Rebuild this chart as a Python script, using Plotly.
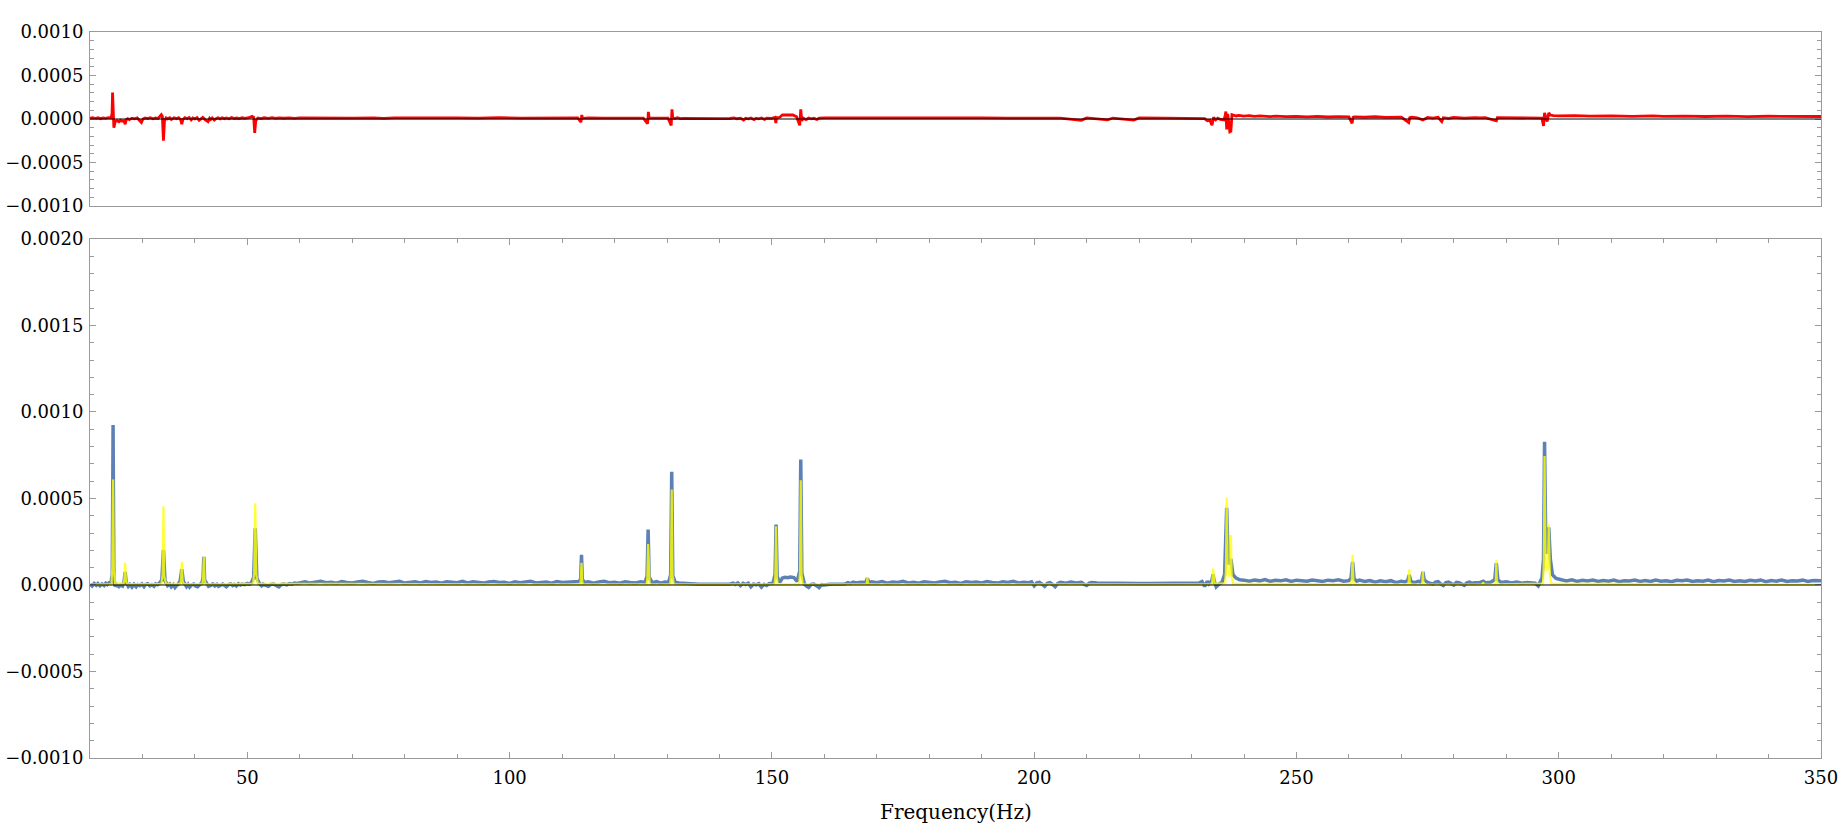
import plotly.graph_objects as go

# ---- Measured spectrum (blue): (frequency Hz, amplitude in 1e-6 units) ----
meas_points = [
    (20.0, 5), (20.4, -6), (20.8, 9), (21.2, -2), (21.5, 8), (21.9, -5), (22.3, 6),
    (22.7, -3), (23.0, 10), (23.3, 2), (23.6, 12), (24.0, 15),
    (24.25, 60), (24.4, 924), (24.55, 40), (24.8, -8), (25.1, 2), (25.5, -9), (25.8, 0),
    (26.2, -6), (26.5, 20), (26.7, 76), (26.9, 15), (27.3, -8), (27.6, 3), (28.0, -12),
    (28.4, 4), (28.8, -10), (29.1, 2), (29.5, -4), (29.9, 6), (30.3, -9), (30.6, 3),
    (31.0, 7), (31.4, -5), (31.8, 2), (32.2, -7), (32.5, 6), (32.9, 1), (33.2, 9),
    (33.7, 30), (34.0, 203), (34.3, 25), (34.6, 9), (34.8, -4), (35.2, 5), (35.5, -11),
    (35.9, 2), (36.2, -14), (36.5, -3), (36.8, 4), (37.2, 25), (37.5, 91), (37.8, 20),
    (38.1, 2), (38.4, -9), (38.7, 3), (39.0, -12), (39.4, 1), (39.8, 5), (40.1, -6),
    (40.5, -10), (40.9, 2), (41.3, 10), (41.55, 40), (41.7, 163), (41.85, 30),
    (42.3, 2), (42.6, -8), (43.0, -3), (43.4, 6), (43.8, -5), (44.2, 4), (44.5, -7),
    (44.9, 1), (45.3, 5), (45.7, -4), (46.0, -10), (46.4, 2), (46.8, 6), (47.2, -3),
    (47.5, 3), (47.9, -6), (48.3, 7), (48.7, 0), (49.0, 5), (49.5, 2), (50.0, 9),
    (50.4, 4), (50.8, 15), (51.2, 45), (51.5, 327), (51.8, 40), (52.3, 8), (52.7, -4),
    (53.0, 5), (53.5, -2), (54.0, -7), (54.5, 4), (55.0, 6), (55.5, -3), (56.0, -11),
    (56.5, 3), (57.0, 5), (57.5, 1), (58.0, 8), (58.5, 5), (59.0, 11), (59.5, 9),
    (60, 14), (61, 19), (62, 11), (63, 17), (64, 22), (65, 13), (66, 16), (67, 10),
    (68, 20), (69, 15), (70, 12), (71, 18), (72, 21), (73, 14), (74, 9), (75, 17),
    (76, 19), (77, 13), (78, 16), (79, 22), (80, 11), (81, 15), (82, 18), (83, 12),
    (84, 20), (85, 14), (86, 17), (87, 10), (88, 19), (89, 16), (90, 13), (91, 21),
    (92, 12), (93, 18), (94, 15), (95, 11), (96, 17), (97, 20), (98, 14), (99, 16),
    (100, 9), (101, 19), (102, 13), (103, 18), (104, 22), (105, 12), (106, 15),
    (107, 17), (108, 11), (109, 20), (110, 14), (111, 16), (112, 13),
    (113.3, 20), (113.55, 40), (113.7, 175), (113.85, 35), (114.2, 14), (115, 19),
    (116, 11), (117, 17), (118, 21), (119, 13), (120, 16), (121, 10), (122, 19),
    (123, 15), (124, 12), (125, 18), (125.8, 15),
    (126.2, 50), (126.4, 320), (126.6, 45), (127.2, 12), (128, 19), (128.8, 10),
    (129.6, 17), (130.3, 14), (130.7, 60), (130.9, 655), (131.1, 55), (131.6, 14),
    (132.3, 11), (133.0, 9), (134.5, 6), (136, 5), (138, 5), (140, 6), (142, 5),
    (142.6, 11), (143, 3), (143.5, 12), (144, -4), (144.5, 9), (145, 2), (145.5, 10),
    (146, -10), (146.5, 6), (147, 1), (147.5, 8), (148, -12), (148.5, 4), (149, -3),
    (149.5, 9), (150.2, 10), (150.6, 60), (150.8, 350), (151.0, 50), (151.5, 15),
    (152.0, 40), (152.5, 44), (153.0, 42), (153.5, 46), (154.2, 43), (154.8, 20),
    (155.3, 80), (155.5, 725), (155.7, 70), (156.2, 5), (156.6, -6), (157, -14),
    (157.5, 4), (158, 6), (158.5, -4), (159, -15), (159.5, 2), (160, 0),
    (161, 4), (162, 4), (163, 5), (164, 6), (164.5, 13), (165, 8), (165.5, 17),
    (166, 12), (167, 16), (167.9, 15), (168.2, 39), (168.5, 12), (169, 18), (170, 13),
    (171, 20), (172, 11), (173, 17), (174, 14), (175, 21), (176, 12), (177, 16),
    (178, 10), (179, 19), (180, 15), (181, 12), (182, 18), (183, 21), (184, 13),
    (185, 16), (186, 9), (187, 19), (188, 14), (189, 17), (190, 12), (191, 20),
    (192, 15), (193, 11), (194, 18), (195, 14), (196, 21), (197, 12), (198, 16),
    (199, 13), (199.5, 18), (200, -5), (200.5, 12), (201, 15), (201.5, 5), (202, -8),
    (202.5, 10), (203, 14), (203.5, 3), (204, -10), (204.5, 9), (205, 15), (206, 10),
    (207, 17), (208, 12), (209, 15), (209.5, 5), (210, -2), (210.5, 11), (211, 14),
    (212, 12), (213, 11), (214, 10), (216, 8), (218, 8), (220, 8), (222, 8), (224, 8),
    (226, 8), (228, 9), (230, 10), (231.5, 12), (232, 20), (232.5, -8), (233, 22),
    (233.3, 6), (233.6, 15), (233.9, 30), (234.1, 62), (234.3, 25), (234.7, -10),
    (235.2, 5), (235.8, 15), (236.3, 60), (236.7, 446), (237.0, 120), (237.5, 151),
    (237.9, 60), (238.5, 40), (239.2, 30), (240, 28), (241, 22), (242, 29), (243, 24),
    (244, 31), (245, 21), (246, 27), (247, 24), (248, 30), (249, 20), (250, 28),
    (251, 25), (252, 22), (253, 29), (254, 24), (255, 21), (256, 28), (257, 25),
    (258, 30), (259, 22), (260, 25), (260.4, 40), (260.7, 134), (261.0, 35),
    (261.5, 22), (262, 28), (263, 21), (264, 26), (265, 16), (266, 24), (267, 19),
    (268, 25), (269, 13), (270, 22), (270.7, 18), (271.2, 25), (271.5, 58),
    (271.8, 20), (272.5, 14), (273.2, 21), (273.6, 17), (273.9, 35), (274.1, 76),
    (274.35, 30), (275, 15), (276, 5), (276.5, 16), (277, 19), (277.5, 6), (278, -3),
    (278.5, 14), (279, 17), (279.5, 8), (280, 0), (280.5, 15), (281, 13), (282, -2),
    (282.5, 12), (283, 16), (283.5, 9), (284, 13), (285, 15), (285.6, 22), (286, 13),
    (287, 16), (287.8, 30), (288.1, 126), (288.4, 30), (289, 15), (290, 19), (291, 12),
    (292, 17), (293, 10), (294, 15), (295, 12), (295.5, 10), (296.1, -5), (296.8, 40),
    (297.1, 150), (297.3, 828), (297.5, 300), (297.8, 180), (298.1, 333),
    (298.4, 150), (298.8, 60), (299.5, 38), (300.5, 30), (301.5, 24), (302.5, 30),
    (303.5, 21), (304.5, 27), (305.5, 23), (306.5, 29), (307.5, 20), (308.5, 26),
    (309.5, 22), (310.5, 28), (311.5, 19), (312.5, 25), (313.5, 23), (314.5, 29),
    (315.5, 21), (316.5, 26), (317.5, 20), (318.5, 28), (319.5, 22), (320.5, 25),
    (321.5, 19), (322.5, 27), (323.5, 24), (324.5, 29), (325.5, 20), (326.5, 25),
    (327.5, 22), (328.5, 28), (329.5, 19), (330.5, 26), (331.5, 23), (332.5, 29),
    (333.5, 21), (334.5, 25), (335.5, 20), (336.5, 27), (337.5, 23), (338.5, 28),
    (339.5, 19), (340.5, 26), (341.5, 22), (342.5, 29), (343.5, 20), (344.5, 25),
    (345.5, 23), (346.5, 28), (347.5, 21), (348.5, 26), (349.5, 22), (350, 25),
]

# ---- Fitted spectrum (yellow) ----
fit_points = [
    (20, 2), (24.1, 5), (24.25, 100), (24.4, 610), (24.55, 80), (24.8, 8), (26.4, 8),
    (26.55, 30), (26.7, 128), (26.85, 25), (27.1, 5), (33.6, 5), (33.85, 60),
    (34.0, 455), (34.15, 50), (34.5, 8), (37.2, 6), (37.35, 30), (37.5, 134),
    (37.65, 25), (37.9, 5), (41.4, 5), (41.55, 35), (41.7, 163), (41.85, 30),
    (42.1, 4), (51.1, 8), (51.3, 70), (51.5, 473), (51.7, 60), (52.0, 8),
    (113.4, 3), (113.55, 25), (113.7, 128), (113.85, 20), (114.0, 3),
    (126.1, 3), (126.25, 40), (126.4, 237), (126.55, 35), (126.7, 3),
    (130.6, 4), (130.75, 70), (130.9, 552), (131.05, 60), (131.3, 4),
    (150.5, 3), (150.65, 50), (150.8, 340), (150.95, 45), (151.1, 4),
    (155.2, 5), (155.35, 70), (155.5, 605), (155.65, 60), (155.9, 5),
    (167.95, 3), (168.1, 15), (168.2, 45), (168.3, 15), (168.45, 3),
    (233.8, 4), (233.95, 20), (234.1, 95), (234.25, 18), (234.4, 8),
    (236.4, 10), (236.55, 80), (236.7, 504), (236.9, 80), (237.2, 50), (237.35, 80),
    (237.5, 289), (237.65, 50), (237.9, 8), (260.4, 4), (260.55, 30), (260.7, 174),
    (260.85, 25), (261.0, 4), (271.25, 3), (271.4, 20), (271.5, 91), (271.6, 18),
    (271.8, 3), (273.85, 3), (274.0, 18), (274.1, 80), (274.2, 15), (274.4, 3),
    (285.45, 2), (285.6, 15), (285.75, 2), (287.85, 3), (288.0, 25), (288.1, 143),
    (288.2, 25), (288.4, 3), (297.0, 8), (297.15, 120), (297.3, 746), (297.5, 120),
    (297.75, 80), (297.95, 120), (298.1, 349), (298.3, 60), (298.6, 8), (350, 2),
]

# ---- Residual (red, top panel) ----
resid_points = [
    (20, 10), (20.5, 16), (21, 6), (21.5, 14), (22, 4), (22.5, 13), (23, 8),
    (23.5, 15), (24.0, 12), (24.2, 60), (24.3, 304),
    (24.45, 10), (24.55, -100), (24.8, -30), (25.1, -18), (25.5, -32), (25.8, -15),
    (26.0, -24), (26.5, -20), (26.7, -60), (26.9, -10), (27.2, 4), (27.5, -8),
    (28.0, 10), (28.5, 2), (29.0, 12), (29.5, -15), (29.8, -40), (30.1, 0),
    (30.5, 12), (31, 4), (31.5, 14), (32, 2), (32.5, 11), (33, 6), (33.6, 50),
    (33.8, 30), (34.0, -250), (34.2, -20), (34.5, 12), (34.8, 2), (35.2, 15),
    (35.5, -5), (36.0, 14), (36.5, 4), (36.9, 16), (37.3, -10), (37.5, -60),
    (37.7, -5), (38.1, 16), (38.5, 4), (38.9, 18), (39.3, -10), (39.6, 12), (40, 2),
    (40.4, 16), (40.8, -15), (41.2, 10), (41.5, 18), (42, -10), (42.5, -30),
    (42.8, 8), (43, -6), (43.3, 12), (43.7, -12), (44, 3), (44.4, 15), (44.8, 2),
    (45.2, 14), (45.6, 4), (46, 12), (46.5, 3), (47, 16), (47.5, 6), (48, 11),
    (48.5, 4), (49, 14), (49.5, 7), (50.3, 15), (50.9, 30), (51.2, 20),
    (51.4, -160), (51.6, -20), (52, 12), (52.6, 5), (53.2, 14), (54, 8), (54.7, 15),
    (55.4, 7), (56, 14), (57, 9), (58, 13), (59, 8), (60, 13), (63, 10), (66, 15),
    (70, 11), (74, 14), (76, 8), (78, 12), (82, 15), (86, 11), (90, 14), (94, 10),
    (98, 15), (102, 11), (106, 14), (110, 10), (113, 12), (113.6, -35), (113.75, 46),
    (113.9, 8), (115, 12), (118, 10), (122, 14), (125.5, 11), (126.3, -54),
    (126.45, 81), (126.6, 10), (128, 12), (130.2, 10), (130.8, -73), (130.95, 112),
    (131.1, 10), (131.5, 5), (132, 14), (132.5, 4), (133, 8), (135, 5), (140, 5),
    (142, 6), (142.8, 12), (143.3, 3), (144, 10), (144.6, -12), (145, 8), (145.5, 2),
    (146, 12), (146.6, -6), (147, 10), (147.5, 3), (148, 12), (148.6, -4), (149, 10),
    (150, 8), (150.6, 20), (150.75, -46), (150.9, 15), (151.5, 20), (152, 46),
    (153, 46), (154, 46), (154.7, 25), (155.3, -73), (155.5, 112), (155.7, -20),
    (156, 10), (156.5, -8), (157, 12), (157.5, 2), (158, 8), (158.6, -5), (159, 10),
    (160, 14), (165, 12), (170, 14), (175, 11), (180, 15), (185, 12), (190, 14),
    (195, 11), (200, 13), (205, 10), (209, -15), (210, 12), (214, -10), (215, 11),
    (219, -12), (220, 12), (225, 11), (230, 12), (232, 12), (232.5, 5), (233, -20),
    (233.5, -15), (233.9, -70), (234.2, 20), (234.6, -10), (235, 10), (235.5, -5),
    (236.2, -10), (236.4, 40), (236.55, 85), (236.7, -120), (236.9, 60),
    (237.3, -147), (237.5, -140), (237.7, 50), (238, 45), (238.5, 35), (239, 42),
    (240, 33), (241, 39), (242, 30), (243, 36), (245, 28), (246, 34), (248, 27),
    (250, 31), (252, 24), (254, 30), (256, 23), (258, 28), (260, 25), (260.6, -50),
    (260.8, 20), (261, 25), (263, 20), (265, 26), (267, 18), (270, 22), (271.4, -40),
    (271.6, 15), (272, 20), (273, 14), (274.1, -10), (275, 18), (276, 10), (277, 19),
    (277.7, -30), (278, 15), (279, 8), (280, 18), (282, 10), (284, 17), (285, 12),
    (286, 16), (288.1, -20), (288.3, 15), (290, 15), (292, 10), (294, 16), (295, 13),
    (296.8, 10), (297.1, -80), (297.3, 70), (297.5, 30), (297.8, -30), (298.1, 70),
    (298.4, 45), (299, 38), (300, 36), (303, 40), (306, 33), (310, 37), (314, 31),
    (318, 35), (320, 30), (324, 34), (328, 29), (332, 33), (336, 28), (340, 32),
    (344, 28), (348, 31), (350, 29),
]

UNIT = 1e-6
meas_freq = [p[0] for p in meas_points]
meas_amp = [p[1] * UNIT for p in meas_points]
fit_freq = [p[0] for p in fit_points]
fit_amp = [p[1] * UNIT for p in fit_points]
resid_freq = [p[0] for p in resid_points]
resid_amp = [p[1] * UNIT for p in resid_points]

x_ticks = [50, 100, 150, 200, 250, 300, 350]

FONT = dict(family="DejaVu Serif", size=18, color="black")
AX = "#9a9a9a"

fig = go.Figure()
fig.add_trace(go.Scatter(x=meas_freq, y=meas_amp, mode="lines",
                         line=dict(color="#5E81B5", width=3.5), xaxis="x", yaxis="y"))
fig.add_trace(go.Scatter(x=fit_freq, y=fit_amp, mode="lines",
                         line=dict(color="rgba(255,255,0,0.8)", width=2.2), xaxis="x", yaxis="y"))
fig.add_trace(go.Scatter(x=resid_freq, y=resid_amp, mode="lines",
                         line=dict(color="#FF0000", width=2.8), xaxis="x2", yaxis="y2"))

common_x = dict(range=[20, 350], showgrid=False, zeroline=False, showline=True,
                linecolor=AX, linewidth=1, automargin=False)
yax_common = dict(showgrid=False, zeroline=False, showline=True, linecolor=AX,
                  linewidth=1, mirror="ticks", tickmode="linear", tick0=0, dtick=0.0005,
                  tickformat=".4f", ticks="inside", ticklen=6, tickcolor=AX,
                  tickfont=FONT, ticklabelstandoff=2, automargin=False,
                  minor=dict(dtick=0.0001, tick0=0, ticks="inside", ticklen=4,
                             tickcolor=AX))
fig.update_layout(
    width=1844, height=838,
    margin=dict(l=90, r=23, t=32, b=80),
    paper_bgcolor="white", plot_bgcolor="white",
    showlegend=False,
    font=FONT,
    xaxis=dict(**common_x, domain=[0, 1], anchor="y", mirror="ticks",
               tickmode="array", tickvals=x_ticks, ticks="inside", ticklen=6,
               tickcolor=AX, tickfont=FONT, ticklabelstandoff=3,
               minor=dict(dtick=10, tick0=0, ticks="inside", ticklen=4, tickcolor=AX)),
    yaxis=dict(**yax_common, domain=[0, 0.7149], anchor="x",
               range=[-0.00100001, 0.00200001]),
    xaxis2=dict(**common_x, domain=[0, 1], anchor="y2", mirror=True, matches="x",
                ticks="", showticklabels=False),
    yaxis2=dict(**yax_common, domain=[0.7603, 1.0], anchor="x2",
                range=[-0.00100001, 0.00100001]),
    shapes=[
        dict(type="line", xref="x domain", yref="y", x0=0, x1=1, y0=0, y1=0,
             line=dict(color="black", width=1), layer="above"),
        dict(type="line", xref="x2 domain", yref="y2", x0=0, x1=1, y0=0, y1=0,
             line=dict(color="black", width=1), layer="above"),
    ],
    annotations=[
        dict(text="Frequency(Hz)", xref="paper", yref="paper", x=0.5, y=-0.0744,
             xanchor="center", yanchor="middle", showarrow=False,
             font=dict(family="DejaVu Serif", size=20, color="black")),
    ],
)

fig.write_html("out.html")
